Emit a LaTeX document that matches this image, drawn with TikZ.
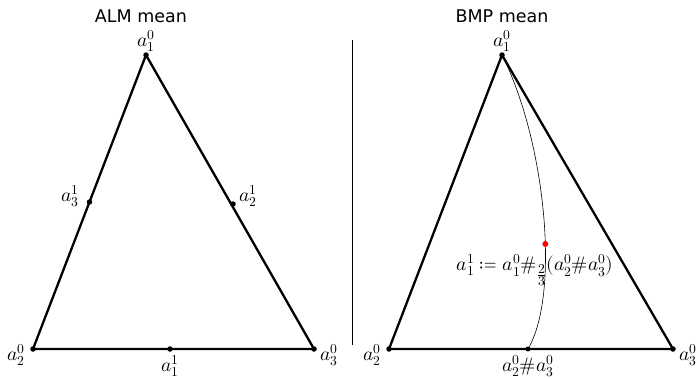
\documentclass[tikz,border=0pt]{standalone}
\usepackage{fontspec}
\usepackage{mathtools}
\usepackage{unicode-math}
\setmathfont{Latin Modern Math}
\usetikzlibrary{calc}
\newfontfamily\titlefont{DejaVu Sans}
\begin{document}
\begin{tikzpicture}[x=1pt,y=-1pt,
  edge/.style={line width=2.3pt},
  dotpt/.style={circle,fill=black,inner sep=0pt,minimum size=5.5pt},
  reddot/.style={circle,fill=red,inner sep=0pt,minimum size=6pt},
  lbl/.style={font=\fontsize{19.5}{22}\selectfont},
  ttl/.style={font=\titlefont\fontsize{17.5}{20}\selectfont}]
\useasboundingbox (0,0) rectangle (700,378);
% titles
\node[ttl] (t1) at (141,16) {ALM mean};
\node[ttl] (t2) at (502,16) {BMP mean};
% separator
\coordinate (s1) at (352,40);
\coordinate (s2) at (352,345);
\draw[line width=0.5pt] (s1) -- (s2);
% left triangle
\coordinate (A1) at (146,55);
\coordinate (A2) at (33,349);
\coordinate (A3) at (314,349);
\draw[edge,line join=round] (A1) -- (A2) -- (A3) -- cycle;
\node[dotpt] (d1) at (A1) {};
\node[dotpt] (d2) at (A2) {};
\node[dotpt] (d3) at (A3) {};
\node[dotpt] (m3) at ($(A1)!0.5!(A2)$) {};
\node[dotpt] (m2) at (233,204) {};
\node[dotpt] (m1) at (170,349) {};
\node[lbl] at (146,41) {$a_1^0$};
\node[lbl] at (16,355) {$a_2^0$};
\node[lbl] at (329,355) {$a_3^0$};
\node[lbl] at (170,366) {$a_1^1$};
\node[lbl] at (70,196) {$a_3^1$};
\node[lbl] at (248,196) {$a_2^1$};
% right triangle
\coordinate (B1) at (502,55);
\coordinate (B2) at (389,349);
\coordinate (B3) at (673,349);
\draw[edge,line join=round] (B1) -- (B2) -- (B3) -- cycle;
\node[dotpt] (e1) at (B1) {};
\node[dotpt] (e2) at (B2) {};
\node[dotpt] (e3) at (B3) {};
\node[dotpt,minimum size=5pt] (g) at (528,349) {};
\draw[line width=0.6pt] (B1) .. controls (545,140) and (560,290) .. (g)
  node[reddot,pos=0.6] (r) {};
\node[lbl] at (372,355) {$a_2^0$};
\node[lbl] at (688,355) {$a_3^0$};
\node[lbl] at (502,41) {$a_1^0$};
\node[lbl] at (528,366) {$a_2^0\#a_3^0$};
\node[lbl] at (535,270) {$a_1^1\coloneqq a_1^0\#_{\frac{\scriptstyle 2}{\scriptstyle 3}}(a_2^0\#a_3^0)$};
\end{tikzpicture}
\end{document}
